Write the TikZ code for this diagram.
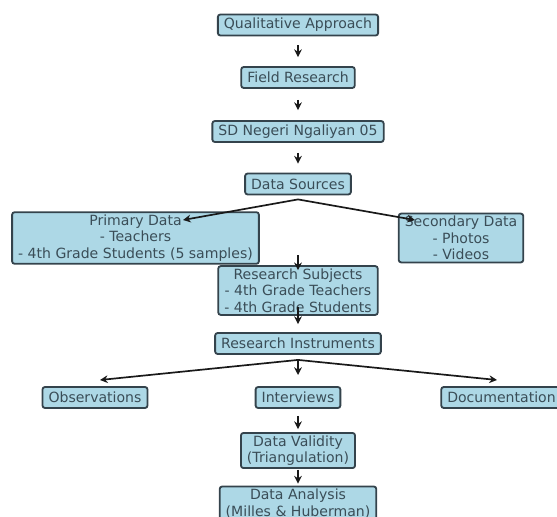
\documentclass[tikz,border=0pt]{standalone}
\usepackage{fontspec}
\setmainfont{DejaVu Sans}
\usepackage{xcolor}
\usetikzlibrary{arrows.meta, positioning, calc}
\definecolor{boxblue}{HTML}{ADD8E6}
\definecolor{boxedge}{HTML}{34434C}
\definecolor{boxtext}{HTML}{3A4D57}

\begin{document}
\begin{tikzpicture}[x=0.025cm, y=-0.025cm, >={Stealth[length=5.5pt, width=5.5pt]}]
    \useasboundingbox (0,0) rectangle (557,517);
    \clip (0,0) rectangle (557,517);
    \begin{scope}[every node/.style={
        rectangle,
        rounded corners=1.8pt,
        draw=boxedge,
        line width=1.3pt,
        fill=boxblue,
        text=boxtext,
        font=\fontsize{10}{11.7}\selectfont,
        align=center,
        inner xsep=4.3pt,
        inner ysep=1.8pt,
        minimum height=0.525cm}]
        \node (qa) at (298,25) {Qualitative Approach};
        \node (fr) at (298,77.5) {Field Research};
        \node (sd) at (298,131.5) {SD Negeri Ngaliyan 05};
        \node (ds) at (298,184) {Data Sources};
        \node (pd) at (135.5,238) {Primary Data\\- Teachers\\- 4th Grade Students (5 samples)};
        \node (sec) at (461,238) {Secondary Data\\- Photos\\- Videos};
        \node (rs) at (298,290.5) {Research Subjects\\- 4th Grade Teachers\\- 4th Grade Students};
        \node (ri) at (298,343.5) {Research Instruments};
        \node (obs) at (95,397.5) {Observations};
        \node (int) at (298,397.5) {Interviews};
        \node (doc) at (501.5,397.5) {Documentation};
        \node (dv) at (298,450.5) {Data Validity\\(Triangulation)};
        \node (da) at (298,503.5) {Data Analysis\\(Milles \& Huberman)};
    \end{scope}
    \begin{scope}[->, draw=black!90, line width=1.2pt]
        \draw[shorten <=6.4pt, shorten >=6.4pt] (qa) -- (fr);
        \draw[shorten <=7.8pt, shorten >=7.1pt] (fr) -- (sd);
        \draw[shorten <=7.1pt, shorten >=6.4pt] (sd) -- (ds);
        \draw ($(ds.south)+(0,4)$) -- ($(pd)+(47.5,-18)$);
        \draw ($(ds.south)+(0,4)$) -- ($(sec)+(-46,-18)$);
        \draw[shorten <=42.7pt, shorten >=-3.6pt] (ds) -- (rs);
        \draw[shorten <=-6.4pt, shorten >=5.7pt] (rs) -- (ri);
        \draw ($(ri.south)+(0,5)$) -- ($(obs)+(5,-17.5)$);
        \draw ($(ri.south)+(0,5)$) -- ($(int)+(0,-22.5)$);
        \draw ($(ri.south)+(0,5)$) -- ($(doc)+(-4.5,-17.5)$);
        \draw[shorten <=5pt, shorten >=2.1pt] (int) -- (dv);
        \draw[shorten <=0.7pt, shorten >=1.4pt] (dv) -- (da);
    \end{scope}
\end{tikzpicture}
\end{document}
